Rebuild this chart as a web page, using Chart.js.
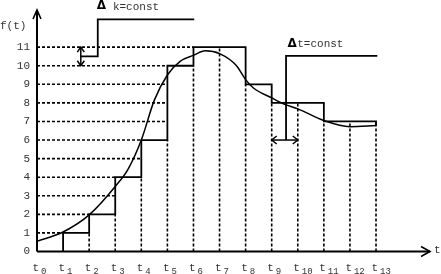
<!DOCTYPE html>
<html>
<head>
<meta charset="utf-8">
<script src="https://cdn.jsdelivr.net/npm/chart.js@4.4.1/dist/chart.umd.min.js"></script>
<style>
  html, body { margin: 0; padding: 0; background: #fff; }
  #wrap { width: 441px; height: 274px; position: relative; }
</style>
</head>
<body>
<div id="wrap"><canvas id="chart"></canvas></div>
<script>
// sample instants t0..t13 (subscripts of the x labels)
const tLabels = ['0', '1', '2', '3', '4', '5', '6', '7', '8', '9', '10', '11', '12', '13'];
// y tick labels
const yTicks = [0, 1, 2, 3, 4, 5, 6, 7, 8, 9, 10, 11];
// quantized level held on each interval [t_i, t_i+1)
const levels = [0, 1, 2, 4, 6, 10, 11, 11, 9, 8, 8, 7, 7];
// continuous signal f(t) (t in units of the sample step)
const curveT = [0, 1, 2, 3, 3.5, 4, 4.5, 5, 5.5, 6, 6.45, 7, 7.65, 8, 8.3, 9, 9.5, 10, 11, 12, 13];
const curveF = [0.55, 1.05, 1.97, 3.5, 4.45, 6.0, 8.15, 9.5, 10.25, 10.56, 10.8, 10.65, 10.0, 9.25, 8.8, 8.27, 7.92, 7.68, 7.05, 6.72, 6.78];
// annotation brackets (data units)
const dkBracket = [[1.68, 10.5], [2.33, 10.5], [2.33, 12.5], [6.03, 12.5]];
const dtBracket = [[9.55, 6], [9.55, 10.53], [13.05, 10.53]];

const xMax = 15.07, yMax = 13;
const pts = arr => arr.map(p => ({ x: p[0], y: p[1] }));

// step function
const stepData = [{ x: 1, y: 0 }];
for (let i = 1; i < levels.length; i++) stepData.push({ x: i, y: levels[i] });
stepData.push({ x: 13, y: levels[12] });
stepData.push({ x: 13, y: curveF[curveF.length - 1] });

// dashed level lines from the axis to the first step that reaches them
const hDash = [];
for (let L = 1; L <= 11; L++) {
  const i = levels.findIndex(v => v >= L);
  hDash.push({ x: 0, y: L }, { x: i, y: L }, { x: i, y: null });
}
// dashed sample lines from the axis up to the lower neighbouring level
const vDash = [];
for (let i = 2; i <= 13; i++) {
  const top = Math.min(levels[i - 1], i < levels.length ? levels[i] : levels[12]);
  vDash.push({ x: i, y: 0 }, { x: i, y: top }, { x: i, y: null });
}

const base = { pointRadius: 0, borderColor: '#000', fill: false };

function seg(ctx, x1, y1, x2, y2) {
  ctx.beginPath(); ctx.moveTo(x1, y1); ctx.lineTo(x2, y2); ctx.stroke();
}
function head(ctx, x, y, dx, dy, len, half) {
  const nx = -dy, ny = dx;
  ctx.beginPath();
  ctx.moveTo(x - dx * len + nx * half, y - dy * len + ny * half);
  ctx.lineTo(x, y);
  ctx.lineTo(x - dx * len - nx * half, y - dy * len - ny * half);
  ctx.stroke();
}

const overlay = {
  id: 'overlay',
  afterDatasetsDraw(chart) {
    const { ctx, chartArea: a, scales: { x, y } } = chart;
    const px = v => x.getPixelForValue(v), py = v => y.getPixelForValue(v);
    ctx.save();
    ctx.strokeStyle = '#000';
    ctx.lineCap = 'butt';

    // axes with arrows
    ctx.lineWidth = 2;
    seg(ctx, a.left, a.bottom, a.left, a.top);
    seg(ctx, a.left, a.bottom, a.right, a.bottom);
    ctx.lineWidth = 1.6;
    head(ctx, a.left, a.top, 0, -1, 9, 4);
    head(ctx, a.right, a.bottom, 1, 0, 9, 5);

    // double arrows
    ctx.lineWidth = 1.5;
    const ax = px(dkBracket[0][0]);
    seg(ctx, ax, py(11), ax, py(10));
    head(ctx, ax, py(11), 0, -1, 5, 3.5);
    head(ctx, ax, py(10), 0, 1, 5, 3.5);
    const ay = py(dtBracket[0][1]);
    seg(ctx, px(9), ay, px(10), ay);
    head(ctx, px(9), ay, -1, 0, 5, 4);
    head(ctx, px(10), ay, 1, 0, 5, 4);

    // text
    ctx.fillStyle = '#333';
    ctx.font = '11px "Liberation Mono", monospace';
    ctx.textBaseline = 'middle';
    ctx.textAlign = 'right';
    yTicks.forEach(v => ctx.fillText(String(v), a.left - 7, py(v)));
    ctx.textAlign = 'left';
    ctx.fillText('f(t)', 0, 26);
    ctx.fillText('t', a.right + 4, a.bottom - 1);

    ctx.textBaseline = 'alphabetic';
    tLabels.forEach((s, i) => {
      const lx = px(i) - 4.5;
      ctx.font = '11px "Liberation Mono", monospace';
      ctx.fillText('t', lx, 271);
      ctx.font = '9px "Liberation Mono", monospace';
      ctx.fillText(s, lx + 8.5, 274);
    });

    ctx.textBaseline = 'middle';
    ctx.font = '11px "Liberation Mono", monospace';
    ctx.fillText('k=const', px(2.91), py(13.15));
    ctx.fillText('t=const', px(9.98), py(11.15));
    ctx.fillStyle = '#000';
    ctx.font = 'bold 12px "DejaVu Sans", sans-serif';
    ctx.textAlign = 'center';
    ctx.fillText('\u0394', px(2.47), py(13.2));
    ctx.fillText('\u0394', px(9.78), py(11.2));
    ctx.restore();
  }
};

new Chart(document.getElementById('chart'), {
  type: 'line',
  data: {
    datasets: [
      { ...base, data: pts(dkBracket), borderWidth: 1.8, order: 1 },
      { ...base, data: pts(dtBracket), borderWidth: 1.8, order: 1 },
      { ...base, data: stepData, stepped: 'before', borderWidth: 1.8, order: 2 },
      { ...base, data: curveT.map((t, i) => ({ x: t, y: curveF[i] })), borderWidth: 1.5,
        cubicInterpolationMode: 'monotone', order: 3 },
      { ...base, data: hDash, borderWidth: 1.6, borderDash: [3, 2], spanGaps: false, order: 4 },
      { ...base, data: vDash, borderWidth: 1.6, borderDash: [3, 2], spanGaps: false, order: 4 }
    ]
  },
  options: {
    responsive: true,
    maintainAspectRatio: false,
    animation: false,
    layout: { padding: { left: 37, right: 11, top: 10, bottom: 22.5 } },
    scales: {
      x: { type: 'linear', min: 0, max: xMax, display: false },
      y: { type: 'linear', min: 0, max: yMax, display: false }
    },
    plugins: { legend: { display: false }, tooltip: { enabled: false } }
  },
  plugins: [overlay]
});
</script>
</body>
</html>
